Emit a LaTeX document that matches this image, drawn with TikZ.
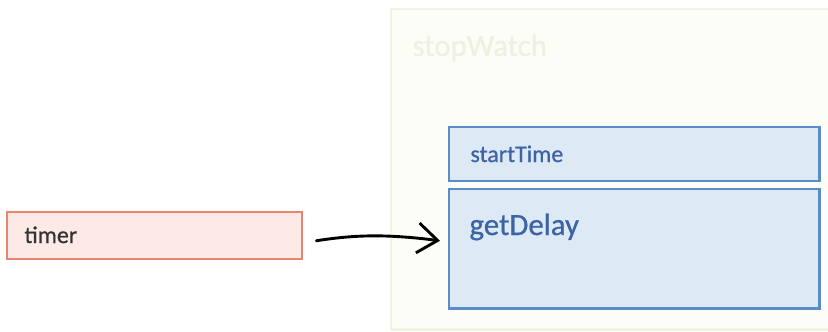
\documentclass[tikz,border=0pt]{standalone}
\usepackage{fontspec}
\setmainfont{Carlito}
\newfontfamily\boxfont[FakeBold=0.7]{Carlito}
\usetikzlibrary{arrows.meta}

\definecolor{wrapFill}{HTML}{FDFDF8}
\definecolor{wrapLine}{HTML}{F2F2E3}
\definecolor{wrapText}{HTML}{F0F0E0}
\definecolor{memFill}{HTML}{DDEAF6}
\definecolor{memLine}{HTML}{5A8CC6}
\definecolor{memText}{HTML}{3B63A6}
\definecolor{varFill}{HTML}{FDE9E6}
\definecolor{varLine}{HTML}{E8846F}
\definecolor{varText}{HTML}{333333}

\tikzset{
	membox/.style={draw=memLine,fill=memFill,line width=2.5pt,minimum width=370bp,anchor=north west,inner sep=0pt},
	varbox/.style={draw=varLine,fill=varFill,line width=2.5pt,minimum width=295bp,minimum height=47bp,anchor=north west,inner sep=0pt},
}

\begin{document}
\begin{tikzpicture}[x=1bp,y=-1bp]
	\useasboundingbox (0,0) rectangle (828,331);
	% object wrapper
	\node[draw=wrapLine,fill=wrapFill,line width=2.5pt,minimum width=460bp,minimum height=320bp,anchor=north west,inner sep=0pt] (stopWatch) at (390,8) {};
	\node[anchor=base west,text=wrapText,font=\boxfont\fontsize{31}{32}\selectfont] (stopWatchLbl) at (409,56) {stopWatch};

	% members
	\node[membox,minimum height=54bp] (startTime) at (448,126) {};
	\node[membox,minimum height=119bp] (getDelay) at (448,188) {};
	\node[anchor=base west,text=memText,font=\boxfont\fontsize{24}{26}\selectfont] (startTimeLbl) at (467,162) {startTime};
	\node[anchor=base west,text=memText,font=\boxfont\fontsize{31}{32}\selectfont] (getDelayLbl) at (466,235) {getDelay};

	% variable
	\node[varbox] (timer) at (6,211) {};
	\node[anchor=base west,text=varText,font=\boxfont\fontsize{24}{26}\selectfont] (timerLbl) at (21,243) {timer};

	\coordinate (arrowEnd) at ([xshift=-8bp,yshift=8bp]getDelay.west);
	\draw[line width=2.9pt,line cap=round,-{Straight Barb[length=20bp,width=30bp]},shorten <=13bp] ([yshift=-7bp]timer.east) to[bend left=8] (arrowEnd);
\end{tikzpicture}
\end{document}
